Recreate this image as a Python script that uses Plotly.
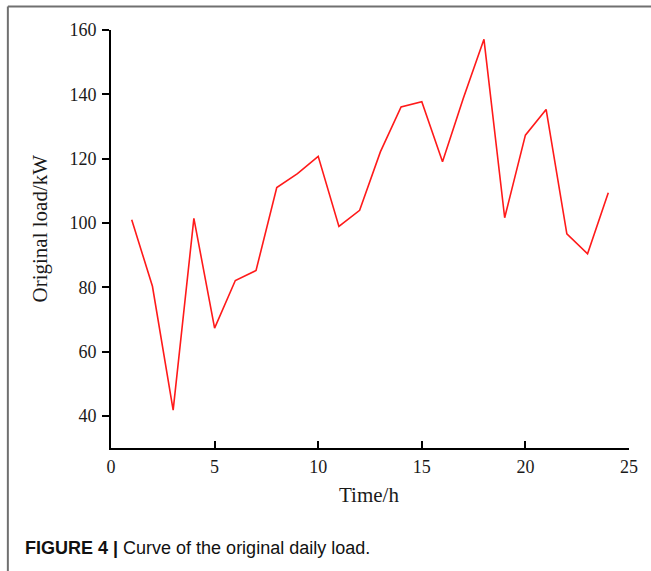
import plotly.graph_objects as go

hours = list(range(1, 25))
load_kw = [101.0, 80.3, 41.8, 101.4, 67.3, 82.1, 85.2, 111.0, 115.3, 120.7, 98.9, 103.9,
           122.1, 136.1, 137.7, 119.0, 138.7, 157.1, 101.6, 127.3, 135.3, 96.6, 90.4, 109.4]
x_ticks = [0, 5, 10, 15, 20, 25]
y_ticks = [40, 60, 80, 100, 120, 140, 160]

W, H = 651, 571
L, R, T, B = 110.7, 22.0, 30.0, 123.3
pw, ph = W - L - R, H - T - B

def px(x):
    return (x - L) / pw

def py(y):
    return (H - B - y) / ph

fig = go.Figure()
fig.add_trace(go.Scatter(x=hours, y=load_kw, mode="lines",
                         line=dict(color="#ff1a1a", width=1.6), showlegend=False))

serif = "Liberation Serif, Times New Roman, serif"
fig.update_layout(
    width=W, height=H,
    margin=dict(l=L, r=R, t=T, b=B),
    paper_bgcolor="white", plot_bgcolor="white",
    font=dict(family=serif, size=18, color="black"),
    xaxis=dict(range=[0, 25], tickvals=x_ticks, ticks="inside", ticklen=7, tickwidth=1.5,
               tickcolor="black", showline=True, linecolor="black", linewidth=2,
               showgrid=False, zeroline=False, ticklabelstandoff=1,
               tickfont=dict(family=serif, size=18, color="#1a1a1a")),
    yaxis=dict(range=[30, 160], tickvals=y_ticks, ticks="outside", ticklen=7, tickwidth=1.5,
               tickcolor="black", showline=True, linecolor="black", linewidth=2,
               showgrid=False, zeroline=False, ticklabelstandoff=2,
               tickfont=dict(family=serif, size=18, color="#1a1a1a")),
    annotations=[
        dict(text="Time/h", x=px(369), y=py(495), xref="paper", yref="paper",
             showarrow=False, xanchor="center", yanchor="middle",
             font=dict(family=serif, size=21, color="#1a1a1a")),
        dict(text="Original load/kW", x=px(40), y=py(228), xref="paper", yref="paper",
             showarrow=False, xanchor="center", yanchor="middle", textangle=-90,
             font=dict(family=serif, size=21, color="#1a1a1a")),
        dict(text="<b>FIGURE 4 |</b> Curve of the original daily load.", x=px(23), y=py(548),
             xref="paper", yref="paper", showarrow=False, xanchor="left", yanchor="middle",
             font=dict(family="Liberation Sans, Arial, sans-serif",
                       size=18, color="#111")),
    ],
    shapes=[
        dict(type="line", xref="paper", yref="paper", x0=px(7.5), x1=px(W + 5),
             y0=py(6.5), y1=py(6.5), line=dict(color="#707070", width=2)),
        dict(type="line", xref="paper", yref="paper", x0=px(7.5), x1=px(7.5),
             y0=py(6.5), y1=py(H + 5), line=dict(color="#707070", width=2)),
    ],
)

fig.write_html("out.html")
